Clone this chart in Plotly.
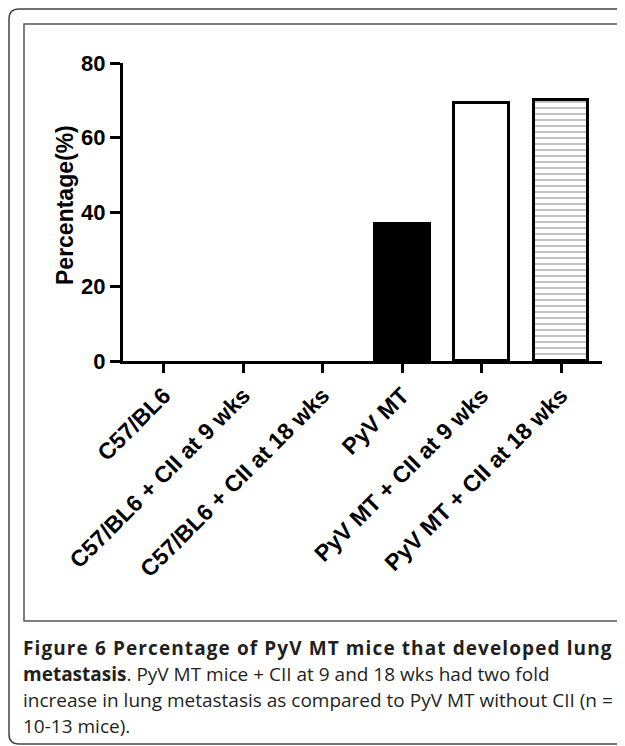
import plotly.graph_objects as go

categories = ["C57/BL6", "C57/BL6 + CII at 9 wks", "C57/BL6 + CII at 18 wks",
              "PyV MT", "PyV MT + CII at 9 wks", "PyV MT + CII at 18 wks"]
values = [0, 0, 0, 36.7, 69.3, 70.1]
y_ticks = [0, 20, 40, 60, 80]
fill_colors = ["white", "white", "white", "black", "white", "white"]
patterns = ["", "", "", "", "", "-"]

W, H = 625, 746
OFF = 8  # page body margin
L, R, T, B = 123, 602, 63, 361  # plot area in screenshot pixels


def px(X):
    return (X - L) / (R - L)


def py(Y):
    return (B - Y) / (B - T)


outline_w = [3 if v > 0 else 0 for v in values]

fig = go.Figure()
fig.add_trace(go.Bar(
    x=list(range(len(categories))),
    y=values,
    width=0.69,
    marker=dict(
        color=fill_colors,
        line=dict(color="black", width=outline_w),
        pattern=dict(shape=patterns, fgcolor="black", bgcolor="white",
                     size=6, solidity=0.22, fillmode="overlay"),
    ),
    showlegend=False,
    hoverinfo="skip",
))

arial = "Liberation Sans, Arial, sans-serif"

fig.update_layout(
    width=W, height=H,
    margin=dict(l=L - OFF, r=W - (R - OFF), t=T - OFF, b=H - (B - OFF)),
    paper_bgcolor="white", plot_bgcolor="white",
    bargap=0,
    xaxis=dict(
        range=[-0.516, len(categories) - 1 + 0.516],
        tickvals=list(range(len(categories))),
        ticktext=["<b>%s</b>" % c for c in categories],
        tickangle=-45,
        ticks="outside", ticklen=9, tickwidth=3, tickcolor="black",
        showline=True, linecolor="black", linewidth=3,
        showgrid=False, zeroline=False,
        tickfont=dict(family=arial, size=23, color="black"),
    ),
    yaxis=dict(
        range=[0, 80],
        tickvals=y_ticks,
        ticktext=["<b>%d</b>" % v for v in y_ticks],
        ticks="outside", ticklen=10, tickwidth=3, tickcolor="black",
        showline=True, linecolor="black", linewidth=3,
        showgrid=False, zeroline=False,
        tickfont=dict(family=arial, size=22, color="black"),
    ),
)

# y-axis title
fig.add_annotation(
    xref="paper", yref="paper", x=px(65), y=py(205),
    text="<b>Percentage(%)</b>", textangle=-90, showarrow=False,
    xanchor="center", yanchor="middle",
    font=dict(family=arial, size=23, color="black"),
)

# frames
top_y = OFF + 1
outer = "M {x0},{y0} L {x1},{y0} Q {x2},{y0} {x2},{y3} L {x2},{y4} Q {x2},{y5} {x1},{y5} L {x0},{y5}".format(
    x0=px(640), x1=px(19), x2=px(9), y0=py(top_y), y3=py(top_y + 10), y4=py(734), y5=py(744))
fig.add_shape(type="path", xref="paper", yref="paper", path=outer,
              line=dict(color="#444444", width=1.5))
fig.add_shape(type="rect", xref="paper", yref="paper",
              x0=px(24), x1=px(620), y0=py(24), y1=py(621),
              line=dict(color="#555555", width=1.5), fillcolor="rgba(0,0,0,0)")

caption_lines = [
    "<b><span style=\"letter-spacing:1.1px\">Figure 6 Percentage of PyV MT mice that developed lung</span></b>",
    "<b>metastasis</b>. PyV MT mice + CII at 9 and 18 wks had two fold",
    "increase in lung metastasis as compared to PyV MT without CII (n =",
    "10-13 mice).",
]
for i, line in enumerate(caption_lines):
    fig.add_annotation(
        xref="paper", yref="paper", x=px(21), y=py(648 + 26 * i),
        text=line, showarrow=False, xanchor="left", yanchor="middle",
        font=dict(family="Open Sans, sans-serif", size=19 if i else 19, color="#231f20"),
    )

fig.write_html("out.html")
